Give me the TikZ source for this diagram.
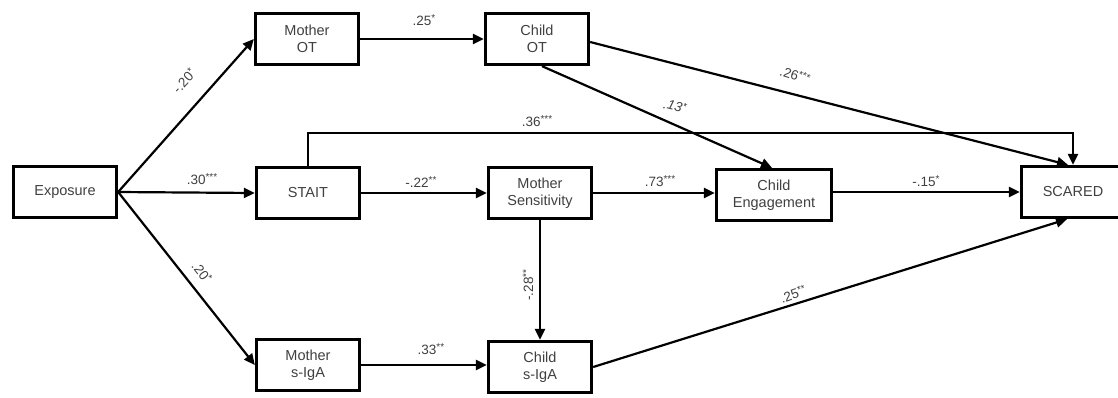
\documentclass[tikz,border=0pt]{standalone}
\usepackage{fontspec}
\setmainfont{Liberation Sans}
\usetikzlibrary{arrows.meta}
\newcommand{\stars}[1]{\raisebox{3.5pt}{\fontsize{10}{10}\selectfont #1}}
\begin{document}
\begin{tikzpicture}[x=1pt,y=-1pt,
  box/.style={draw, line width=3.3pt, minimum width=103pt, minimum height=51pt,
    align=center, font=\fontsize{14.5}{17}\selectfont, text=black!75, inner sep=0pt},
  arr/.style={line width=2.2pt, -{Triangle[length=11pt,width=10pt]}},
  lab/.style={font=\fontsize{13.5}{13.5}\selectfont, text=black!75, inner sep=1pt}]
\useasboundingbox (0,0) rectangle (1118,397);
% nodes
\node[box] (ex) at (65,192) {Exposure};
\node[box] (mot) at (307,39) {Mother\\OT};
\node[box] (cot) at (537,39) {Child\\OT};
\node[box] (stait) at (308,193) {STAIT};
\node[box] (ms) at (540,193) {Mother\\Sensitivity};
\node[box, minimum width=115pt] (ce) at (774,195) {Child\\Engagement};
\node[box] (sc) at (1073,192) {SCARED};
\node[box] (msi) at (308,365) {Mother\\s-IgA};
\node[box] (csi) at (540,367) {Child\\s-IgA};
\coordinate (topline) at (0,133);
% connectors
\draw[arr] (ex.east) -- (mot.west);
\draw[arr] (ex.east) -- (stait.west);
\draw[arr] (ex.east) -- (msi.west);
\draw[arr] (mot.east) -- (cot.west);
\draw[arr] (stait.east) -- (ms.west);
\draw[arr] (ms.east) -- (ce.west |- ms.east);
\draw[arr] (ce.east |- sc.west) -- (sc.west);
\draw[arr] (msi.east) -- (csi.west |- msi.east);
\draw[arr] (ms.south) -- (csi.north);
\draw[arr] ([xshift=5pt]cot.south) -- ([xshift=-2pt]ce.north);
\draw[arr] ([yshift=-3pt]cot.east) -- ([xshift=-5pt]sc.north);
\draw[arr] (stait.north) -- (stait.north |- topline) -| (sc.north);
\draw[arr] (csi.east) -- ([xshift=-6pt]sc.south);
% labels
\node[lab, rotate=48] (l1) at (184,81) {-.20\stars{*}};
\node[lab] (l2) at (202,179) {.30\stars{***}};
\node[lab, rotate=-52] (l3) at (202,272) {.20\stars{*}};
\node[lab] (l4) at (424,20) {.25\stars{*}};
\node[lab, rotate=-18] (l5) at (795,75) {.26\stars{***}};
\node[lab, rotate=-15, font=\fontsize{13.5}{13.5}\selectfont\itshape] (l6) at (675,106) {.13\stars{*}};
\node[lab] (l7) at (537,121) {.36\stars{***}};
\node[lab] (l8) at (421,182) {-.22\stars{**}};
\node[lab] (l9) at (660,181) {.73\stars{***}};
\node[lab] (l10) at (926,181) {-.15\stars{*}};
\node[lab, rotate=90] (l11) at (528,285) {-.28\stars{**}};
\node[lab] (l12) at (431,349) {.33\stars{**}};
\node[lab, rotate=20] (l13) at (793,294) {.25\stars{**}};
\end{tikzpicture}
\end{document}
